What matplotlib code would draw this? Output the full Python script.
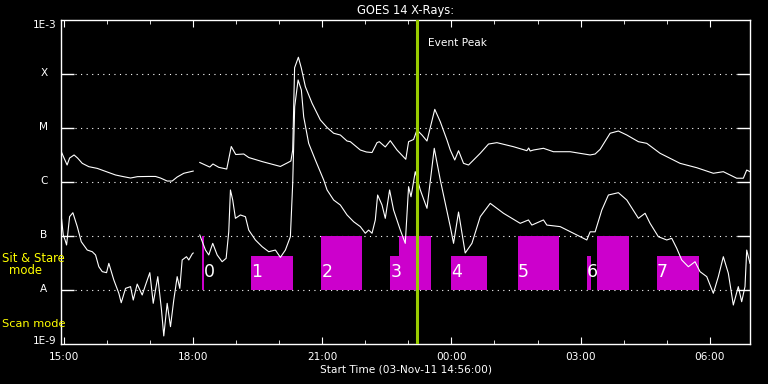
import numpy as np
import matplotlib
matplotlib.use("Agg")
import matplotlib.pyplot as plt
import matplotlib.transforms as mtransforms

nan = np.nan

# time axis in hours of 03-Nov-11 (values > 24 are 04-Nov)
t_start = 14 + 56 / 60
t_end = t_start + 16

# GOES 14 long channel (1-8 A), W/m^2 ; nan = data gap
long_t = [14.940, 15.075, 15.133, 15.237, 15.318, 15.427, 15.580, 15.775, 16.007, 16.200,
          16.362, 16.548, 16.710, 16.966, 17.128, 17.244, 17.399, 17.515, 17.631, 17.785, 18.003,
          nan,
          18.156, 18.388, 18.462, 18.597, 18.782, 18.887, 18.991, 19.177, 19.293, 19.611,
          20.028, 20.198, 20.272, 20.314, 20.358, 20.446, 20.515, 20.608, 20.764, 20.956,
          21.112, 21.265, 21.420, 21.576, 21.652, 21.884, 22.024, 22.156, 22.272, 22.325,
          22.464, 22.580, 22.736, 22.940, 23.005, 23.121, 23.200, 23.316, 23.432, 23.613,
          23.741, 23.896, 23.973, 24.077, 24.165, 24.281, 24.397, 24.669, 24.861, 25.056,
          25.441, 25.752, 25.794, 25.829, 25.905, 26.137, 26.369, 26.757, 27.221, 27.337,
          27.453, 27.685, 27.877, 28.072, 28.342, 28.536, 28.845, 29.309, 29.697, 30.082,
          30.314, 30.624, 30.778, 30.857, 30.933]
long_flux = [3.56e-6, 2.02e-6, 2.72e-6, 3.10e-6, 2.72e-6, 2.17e-6, 1.88e-6, 1.75e-6, 1.50e-6, 1.32e-6,
             1.24e-6, 1.16e-6, 1.23e-6, 1.24e-6, 1.24e-6, 1.16e-6, 1.02e-6, 1.02e-6, 1.21e-6, 1.42e-6, 1.56e-6,
             nan,
             2.25e-6, 1.85e-6, 2.11e-6, 1.83e-6, 1.70e-6, 4.45e-6, 3.16e-6, 3.23e-6, 2.78e-6, 2.33e-6,
             1.90e-6, 2.23e-6, 2.40e-6, 3.83e-6, 1.28e-4, 2.00e-4, 1.25e-4, 5.70e-5, 2.81e-5, 1.38e-5,
             1.00e-5, 7.82e-6, 7.26e-6, 5.62e-6, 5.46e-6, 3.83e-6, 3.52e-6, 3.44e-6, 5.24e-6, 5.46e-6,
             4.36e-6, 5.70e-6, 3.83e-6, 2.58e-6, 5.46e-6, 6.00e-6, 8.99e-6, 7.26e-6, 5.62e-6, 2.17e-5,
             1.28e-5, 5.87e-6, 3.83e-6, 2.50e-6, 3.72e-6, 2.17e-6, 2.02e-6, 3.33e-6, 4.94e-6, 5.24e-6,
             4.41e-6, 3.72e-6, 4.17e-6, 3.67e-6, 3.83e-6, 4.12e-6, 3.56e-6, 3.56e-6, 3.10e-6, 3.23e-6,
             3.94e-6, 7.82e-6, 8.61e-6, 7.26e-6, 5.46e-6, 5.09e-6, 3.33e-6, 2.17e-6, 1.80e-6, 1.42e-6,
             1.52e-6, 1.15e-6, 1.15e-6, 1.63e-6, 1.52e-6]

# GOES 14 short channel (0.5-4 A), W/m^2
short_t = [14.947, 14.986, 15.028, 15.063, 15.133, 15.209, 15.311, 15.404, 15.543, 15.659,
           15.736, 15.812, 15.891, 15.991, 16.044, 16.160, 16.276, 16.332, 16.432, 16.548,
           16.611, 16.703, 16.819, 16.896, 16.996, 17.075, 17.181, 17.267, 17.320, 17.399,
           17.476, 17.552, 17.631, 17.692, 17.747, 17.847, 17.901, 17.979, 18.003,
           nan,
           18.156, 18.288, 18.365, 18.457, 18.560, 18.675, 18.768, 18.829, 18.868, 18.921,
           18.984, 19.100, 19.216, 19.293, 19.448, 19.604, 19.757, 19.912, 20.028, 20.144,
           20.260, 20.314, 20.360, 20.439, 20.515, 20.569, 20.685, 20.840, 21.033, 21.112,
           21.265, 21.420, 21.576, 21.729, 21.884, 22.000, 22.077, 22.156, 22.232, 22.286,
           22.388, 22.464, 22.564, 22.657, 22.813, 22.928, 23.005, 23.061, 23.160, 23.277,
           23.432, 23.601, 23.741, 23.857, 23.973, 24.049, 24.165, 24.320, 24.476, 24.669,
           24.901, 25.209, 25.597, 25.789, 25.868, 26.137, 26.216, 26.525, 26.833, 27.144,
           27.221, 27.337, 27.492, 27.645, 27.877, 28.072, 28.342, 28.497, 28.613, 28.805,
           29.000, 29.116, 29.232, 29.348, 29.502, 29.657, 29.773, 29.929, 30.082, 30.198,
           30.314, 30.430, 30.546, 30.662, 30.740, 30.817, 30.857, 30.933]
short_flux = [2.00e-7, 1.02e-7, 8.26e-8, 6.67e-8, 2.23e-7, 2.64e-7, 1.46e-7, 7.67e-8, 5.38e-8, 5.01e-8,
              4.36e-8, 2.64e-8, 2.14e-8, 2.05e-8, 3.05e-8, 1.50e-8, 8.51e-9, 5.69e-9, 1.05e-8, 1.13e-8,
              6.38e-9, 1.26e-8, 7.91e-9, 1.21e-8, 2.05e-8, 5.55e-9, 1.73e-8, 4.17e-9, 1.38e-9, 5.55e-9,
              2.05e-9, 6.38e-9, 1.73e-8, 1.05e-8, 3.52e-8, 4.05e-8, 3.52e-8, 4.54e-8, 4.74e-8,
              nan,
              1.02e-7, 5.38e-8, 4.36e-8, 7.16e-8, 4.36e-8, 3.27e-8, 3.78e-8, 1.17e-7, 6.97e-7, 4.54e-7,
              2.08e-7, 2.40e-7, 2.23e-7, 1.26e-7, 8.26e-8, 6.21e-8, 5.01e-8, 5.38e-8, 3.94e-8, 5.38e-8,
              9.51e-8, 9.27e-7, 2.43e-5, 7.59e-5, 4.94e-5, 1.58e-5, 5.09e-6, 2.50e-6, 1.07e-6, 6.97e-7,
              4.54e-7, 3.67e-7, 2.40e-7, 1.80e-7, 1.46e-7, 1.10e-7, 1.26e-7, 1.10e-7, 1.94e-7, 5.62e-7,
              3.67e-7, 2.08e-7, 6.97e-7, 2.96e-7, 1.26e-7, 7.16e-8, 8.02e-7, 5.22e-7, 1.52e-6, 6.97e-7,
              3.19e-7, 4.12e-6, 1.07e-6, 3.94e-7, 1.46e-7, 7.16e-8, 2.72e-7, 4.74e-8, 7.16e-8, 2.23e-7,
              3.94e-7, 2.58e-7, 1.68e-7, 1.94e-7, 1.56e-7, 1.94e-7, 1.56e-7, 1.46e-7, 1.10e-7, 8.26e-8,
              1.17e-7, 1.17e-7, 2.96e-7, 5.62e-7, 6.21e-7, 4.54e-7, 2.08e-7, 2.58e-7, 1.68e-7, 9.51e-8,
              8.26e-8, 8.87e-8, 5.79e-8, 3.52e-8, 2.64e-8, 3.27e-8, 2.14e-8, 1.73e-8, 8.51e-9, 1.73e-8,
              4.05e-8, 2.00e-8, 5.16e-9, 1.13e-8, 5.94e-9, 1.13e-8, 5.38e-8, 3.05e-8]

# observing sessions (magenta): start, end, top level, label
sess_start = [18.213, 19.355, 20.979, 22.580, 22.773, 23.996, 25.550, 27.151, 27.383, 28.775]
sess_end = [18.263, 20.330, 21.924, 22.773, 23.532, 24.831, 26.502, 27.244, 28.126, 29.750]
sess_top = [1e-7, 4.2e-8, 1e-7, 4.2e-8, 1e-7, 4.2e-8, 1e-7, 4.2e-8, 1e-7, 4.2e-8]
sess_label = ["0", "1", "2", "3", "", "4", "5", "6", "", "7"]
sess_label_t = [18.25, 19.355, 20.979, 22.580, None, 23.996, 25.550, 27.151, None, 28.775]

event_peak = 23.2

class_levels = [1e-4, 1e-5, 1e-6, 1e-7, 1e-8]
class_names = ["X", "M", "C", "B", "A"]

xtick_major = [15, 18, 21, 24, 27, 30]
xtick_labels = ["15:00", "18:00", "21:00", "00:00", "03:00", "06:00"]
xtick_minor = list(range(15, 31))

fs = 7.6
fig = plt.figure(figsize=(7.68, 3.84), dpi=100, facecolor="black")
ax = fig.add_axes([61 / 768, 1 - 343.5 / 384, 689 / 768, 324 / 384], facecolor="black")
ax.set_yscale("log")
ax.set_xlim(t_start, t_end)
ax.set_ylim(1e-9, 1e-3)

# dotted class lines
for lev in class_levels:
    ax.axhline(lev, xmin=0.0203, xmax=0.981, color="white", lw=0.8,
               linestyle=(0, (1, 4)), zorder=1)

# sessions
for s, e, top in zip(sess_start, sess_end, sess_top):
    ax.bar(s, top - 1e-8, width=e - s, bottom=1e-8, align="edge",
           color="#cc00cc", edgecolor="none", zorder=2)
for lab, lt in zip(sess_label, sess_label_t):
    if lab:
        ax.text(lt, 2.1e-8, lab, color="white", fontsize=12.5,
                ha="left", va="center", zorder=4)

ax.plot(np.array(long_t, dtype=float), np.array(long_flux, dtype=float),
        color="white", lw=0.8, zorder=3)
ax.plot(np.array(short_t, dtype=float), np.array(short_flux, dtype=float),
        color="white", lw=0.8, zorder=3)

ax.axvline(event_peak, color="#99cc00", lw=2.2, zorder=5)
ax.text(event_peak + 0.255, 0.927, "Event Peak",
        transform=mtransforms.blended_transform_factory(ax.transData, ax.transAxes),
        color="white", fontsize=fs, ha="left", va="center")

# axes styling
for sp in ax.spines.values():
    sp.set_color("white")
    sp.set_linewidth(1)

ax.set_xticks(xtick_major)
ax.set_xticklabels(xtick_labels)
ax.set_xticks(xtick_minor, minor=True)
ax.tick_params(axis="x", which="both", direction="in", top=True, bottom=True,
               colors="white", labelsize=fs, pad=6)
ax.tick_params(axis="x", which="major", length=5)
ax.tick_params(axis="x", which="minor", length=3)

ax.set_yticks(class_levels)
ax.set_yticklabels([])
ax.yaxis.set_minor_locator(matplotlib.ticker.NullLocator())
ax.tick_params(axis="y", which="major", direction="in", left=True, right=True,
               length=9.5, width=1, colors="white")

yt = mtransforms.blended_transform_factory(ax.transAxes, ax.transData)
for lev, name in zip(class_levels, class_names):
    ax.text(-0.0247, lev, name, transform=yt, color="white", fontsize=fs,
            ha="center", va="center")
ax.text(-0.006, 1e-3, "1E-3", transform=yt, color="white", fontsize=fs, ha="right", va="top")
ax.text(-0.006, 1e-9, "1E-9", transform=yt, color="white", fontsize=fs, ha="right", va="baseline")

ax.set_title("GOES 14 X-Rays:", color="white", fontsize=8.3, pad=4)
ax.set_xlabel("Start Time (03-Nov-11 14:56:00)", color="white", fontsize=fs, labelpad=2)

fig.text(2 / 768, 1 - 259 / 384, "Sit & Stare", color="yellow", fontsize=8.4, ha="left", va="center")
fig.text(25 / 768, 1 - 271 / 384, "mode", color="yellow", fontsize=8.4, ha="center", va="center")
fig.text(2 / 768, 1 - 324 / 384, "Scan mode", color="yellow", fontsize=8.2, ha="left", va="center")

fig.savefig("out.png", dpi=100, facecolor="black")
